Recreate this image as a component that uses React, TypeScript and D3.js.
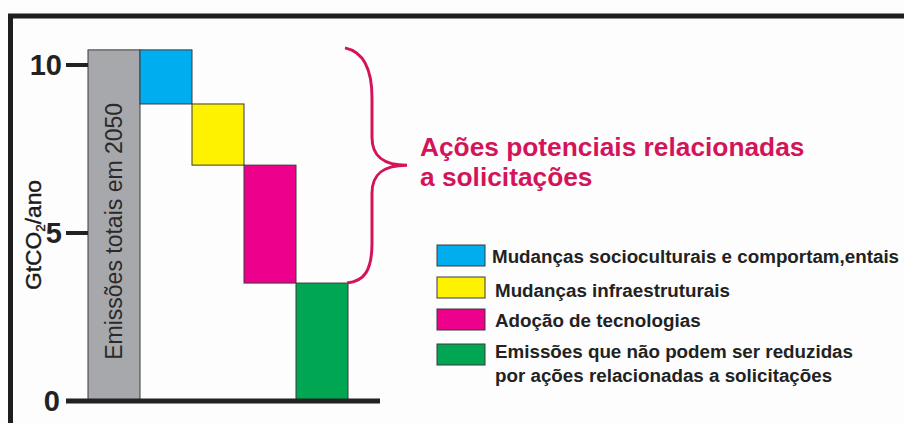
import React from 'react';
import * as d3 from 'd3';

// waterfall steps, GtCO2/ano
const categories = ['total', 'socio', 'infra', 'tecno', 'residual'];
const barTop = [10.45, 10.45, 8.84, 7.02, 3.51];
const barBottom = [0, 8.84, 7.02, 3.51, 0];
const barColors = ['#a7a8ab', '#00aeef', '#fff200', '#ec008c', '#00a651'];

const yTicks = [0, 5, 10];

const legendLabels = [
  ['Mudanças socioculturais e comportam,entais'],
  ['Mudanças infraestruturais'],
  ['Adoção de tecnologias'],
  ['Emissões que não podem ser reduzidas', 'por ações relacionadas a solicitações'],
];
const legendColors = ['#00aeef', '#fff200', '#ec008c', '#00a651'];

const braceLabel = ['Ações potenciais relacionadas', 'a solicitações'];

const W = 904;
const H = 423;
const FONT = '"Liberation Sans", Arial, sans-serif';
const CRIMSON = '#d4145a';
const INK = '#222';

const App = () => {
  const x = d3.scaleBand().domain(categories).range([88, 348]).padding(0);
  const y = d3.scaleLinear().domain([0, 10]).range([401, 65]);

  // brace spans the reducible part: from total down to residual top
  const bx = x('residual')! + x.bandwidth();
  const bTop = y(barTop[0]) - 2;
  const bBot = y(barTop[4]);
  const bMid = y(7.02);
  const brace = d3.path();
  brace.moveTo(bx - 3, bTop);
  brace.bezierCurveTo(bx + 16, bTop + 4, bx + 24, bTop + 22, bx + 24, bTop + 50);
  brace.lineTo(bx + 24, bMid - 28);
  brace.bezierCurveTo(bx + 24, bMid - 8, bx + 36, bMid, bx + 59, bMid);
  brace.bezierCurveTo(bx + 36, bMid, bx + 24, bMid + 8, bx + 24, bMid + 28);
  brace.lineTo(bx + 24, bBot - 40);
  brace.bezierCurveTo(bx + 24, bBot - 12, bx + 16, bBot - 2, bx - 1, bBot);

  const legendY = [245, 277, 309, 344];
  const textBase = [263, 297, 327, 358];

  return (
    <svg
      width={W}
      height={H}
      style={{ position: 'absolute', left: 0, top: 0, background: '#fdfdfd' }}
      fontFamily={FONT}
    >
      <rect x={0} y={0} width={W} height={H} fill="#fdfdfd" />
      {/* frame */}
      <line x1={8} x2={W} y1={16} y2={16} stroke="#1e1e1e" strokeWidth={5} />
      <line x1={10.5} x2={10.5} y1={14} y2={H} stroke="#1e1e1e" strokeWidth={5} />

      {/* bars */}
      {categories.map((c, i) => (
        <rect
          key={c}
          x={x(c)}
          y={y(barTop[i])}
          width={x.bandwidth()}
          height={y(barBottom[i]) - y(barTop[i])}
          fill={barColors[i]}
          stroke="#3a3a3a"
          strokeWidth={1}
        />
      ))}

      <text
        transform={`translate(${x('total')! + x.bandwidth() / 2 + 8},${y(5.05)}) rotate(-90)`}
        textAnchor="middle"
        fontSize={23}
        fill="#2a2a2a"
      >
        Emissões totais em 2050
      </text>

      {/* axes */}
      <line x1={66} x2={380} y1={y(0)} y2={y(0)} stroke={INK} strokeWidth={5} />
      {yTicks.map((t) => (
        <g key={t}>
          {t > 0 && <line x1={66} x2={88} y1={y(t)} y2={y(t)} stroke={INK} strokeWidth={4} />}
          <text
            x={t === 0 ? 60 : 62}
            y={y(t)}
            dy="0.36em"
            textAnchor="end"
            fontSize={29}
            fontWeight="bold"
            fill={INK}
          >
            {t}
          </text>
        </g>
      ))}
      <text
        transform={`translate(41,${y(4.94)}) rotate(-90)`}
        textAnchor="middle"
        fontSize={22}
        fill="#1a1a1a"
        stroke="#1a1a1a"
        strokeWidth={0.4}
        textLength={110}
        lengthAdjust="spacingAndGlyphs"
      >
        GtCO<tspan fontSize={13} dy={4}>2</tspan>
        <tspan dy={-4}>/ano</tspan>
      </text>

      {/* brace + label */}
      <path d={brace.toString()} fill="none" stroke={CRIMSON} strokeWidth={3} />
      {braceLabel.map((l, i) => (
        <text key={l} x={420} y={156 + i * 30} fontSize={26.3} fontWeight="bold" fill={CRIMSON}>
          {l}
        </text>
      ))}

      {/* legend */}
      {legendLabels.map((lines, i) => (
        <g key={i}>
          <rect
            x={437}
            y={legendY[i]}
            width={48}
            height={21}
            fill={legendColors[i]}
            stroke="#3a3a3a"
            strokeWidth={1}
          />
          {lines.map((l, j) => (
            <text
              key={l}
              x={i === 0 ? 492 : 495}
              y={textBase[i] + j * 24}
              fontSize={18.8}
              fontWeight="bold"
              fill={INK}
            >
              {l}
            </text>
          ))}
        </g>
      ))}
    </svg>
  );
};

export default App;
